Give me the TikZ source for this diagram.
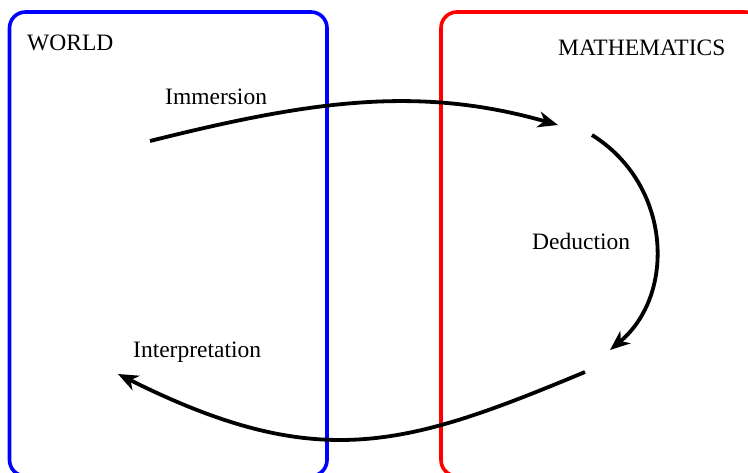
\documentclass[tikz,border=0pt]{standalone}
\usepackage{fontspec}
\setmainfont{Liberation Serif}
\usetikzlibrary{arrows.meta}

\begin{document}
\begin{tikzpicture}[x=1pt, y=-1pt,
    region/.style={line width=3.6pt, rounded corners=16pt},
    flow/.style={line width=3.8pt, -{Stealth[length=20pt, width=16pt, inset=6pt]}},
    lbl/.style={anchor=base west, inner sep=0pt, font=\fontsize{23.5}{28}\selectfont}]
  \useasboundingbox (0,0) rectangle (748,472);

  % the two regions, cut off by the page
  \begin{scope}
    \clip (0,0) rectangle (748,472);
    \draw[region, blue] (9.5,12) rectangle (327,476);
    \draw[region, red] (441,12) rectangle (761,476);
  \end{scope}

  \node[lbl] (world) at (27,50) {WORLD};
  \node[lbl] (maths) at (558,55) {MATHEMATICS};

  \node[lbl] (immersion) at (165,104) {Immersion};
  \node[lbl] (deduction) at (532,249) {Deduction};
  \node[lbl] (interpretation) at (133,357) {Interpretation};

  \coordinate (w1) at (150,141);
  \coordinate (m1) at (558,125);
  \coordinate (m2) at (592,135);
  \coordinate (m3) at (610,350);
  \coordinate (m4) at (585,372);
  \coordinate (w2) at (118,374);

  \draw[flow] (w1) .. controls (310,101) and (418,85) .. (m1);
  \draw[flow] (m2) .. controls (672,185) and (676,295) .. (m3);
  \draw[flow] (m4) .. controls (405,447) and (318,474) .. (w2);
\end{tikzpicture}
\end{document}
